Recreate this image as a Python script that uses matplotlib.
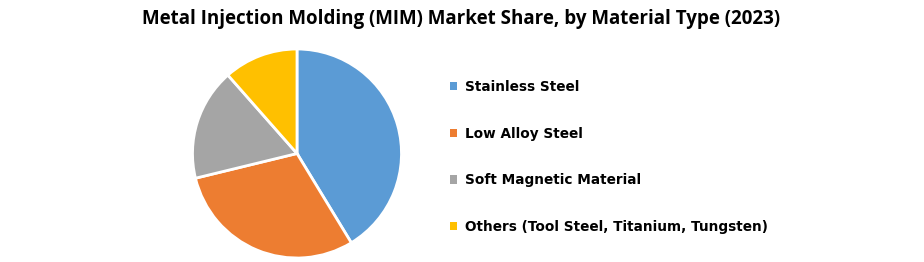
import matplotlib.pyplot as plt

# data
materials = ['Stainless Steel', 'Low Alloy Steel', 'Soft Magnetic Material',
             'Others (Tool Steel, Titanium, Tungsten)']
share = [41.3, 29.9, 17.3, 11.5]
colors = ['#5B9BD5', '#ED7D31', '#A5A5A5', '#FFC000']

W, H = 924, 262
fig = plt.figure(figsize=(W / 100, H / 100), dpi=100)

# pie axes sized to the circle bbox (center ~297,153 px, r ~104.5 px)
ax = fig.add_axes([192.5 / W, 4 / H, 209 / W, 209 / H])
wedges, _ = ax.pie(share, colors=colors, startangle=90, counterclock=False,
                   wedgeprops=dict(edgecolor='white', linewidth=2))
for w in wedges:
    w.set_clip_on(False)
ax.set_xlim(-1, 1)
ax.set_ylim(-1, 1)
ax.set_aspect('equal')

fig.text(461 / W, 1 - 19 / H,
         'Metal Injection Molding (MIM) Market Share, by Material Type (2023)',
         ha='center', va='center', fontsize=13.5, fontweight='bold',
         family='Open Sans')

leg = fig.legend(wedges, materials, loc='upper left',
                 bbox_to_anchor=(450 / W, 1 - 80 / H), frameon=False,
                 prop=dict(family='DejaVu Sans', weight='bold', size=9.8),
                 handlelength=0.55, handleheight=0.55, handletextpad=0.55,
                 labelspacing=2.4, borderpad=0, borderaxespad=0)
for h in leg.legend_handles:
    h.set_edgecolor('none')

fig.savefig('out.png', dpi=100)
